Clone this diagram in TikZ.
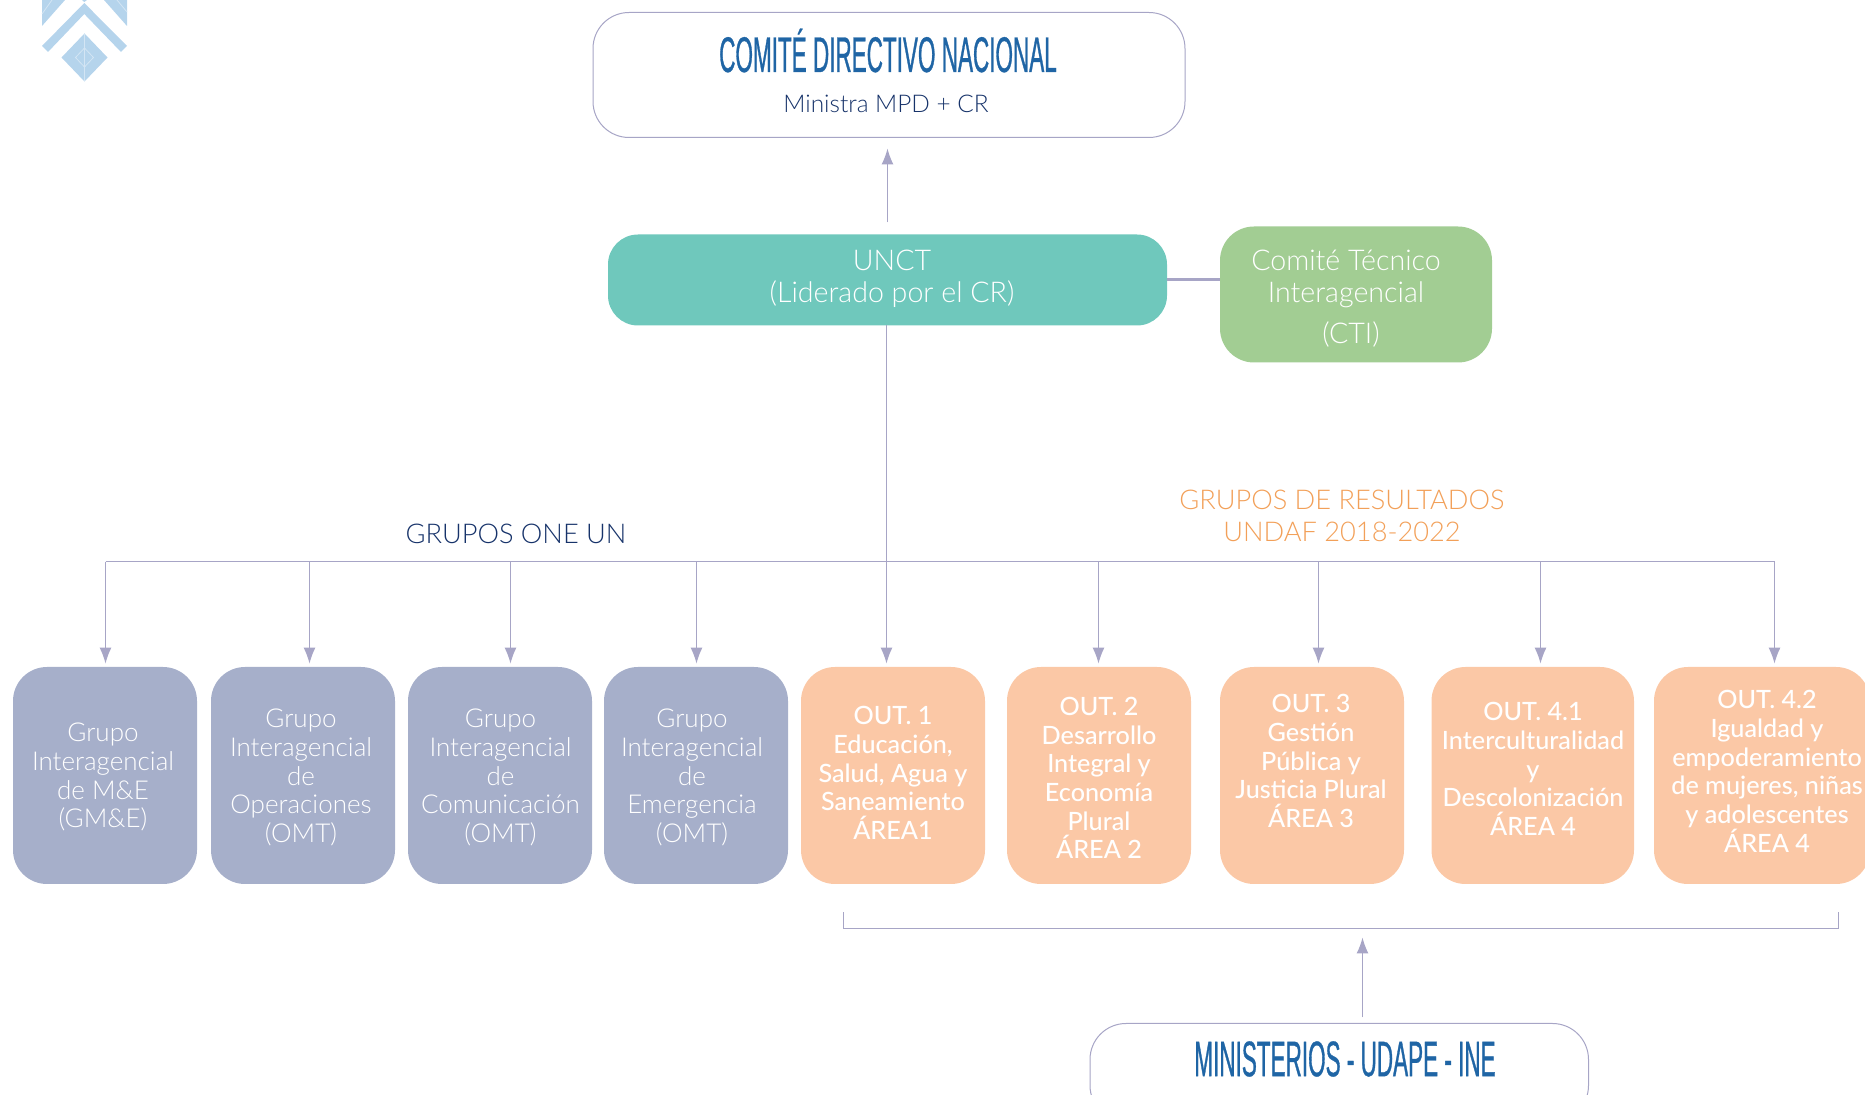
\documentclass[tikz,border=0pt]{standalone}
\usepackage{fontspec}
\setmainfont{Lato Light}
\newfontfamily\medf{Lato Medium}
\newfontfamily\titlef[FakeStretch=0.45,FakeBold=0.6]{Liberation Sans}
\usetikzlibrary{arrows.meta,calc}
\definecolor{linec}{HTML}{A7A5C6}
\definecolor{navyc}{HTML}{17336A}
\definecolor{titlec}{HTML}{1F65A5}
\definecolor{tealc}{HTML}{6FC8BC}
\definecolor{greenc}{HTML}{A2CD93}
\definecolor{greyb}{HTML}{A6AFCA}
\definecolor{orangeb}{HTML}{FBC8A6}
\definecolor{oranget}{HTML}{F2A059}
\definecolor{logoc}{HTML}{B5D4EC}
\definecolor{logol}{HTML}{D3E5F4}
\tikzset{
  x=0.5pt,y=-0.5pt,
  boxbase/.style={rounded corners=#1,inner sep=0pt,outer sep=0pt},
  outl/.style={draw=linec,line width=0.5pt,fill=white,rectangle,boxbase=18pt},
  tealbox/.style={fill=tealc,rectangle,boxbase=15pt},
  greenbox/.style={fill=greenc,rectangle,boxbase=17pt},
  greybox/.style={fill=greyb,rectangle,boxbase=17pt,minimum width=92pt,minimum height=108.5pt},
  orbox/.style={fill=orangeb,rectangle,boxbase=17pt,minimum height=108.5pt},
  wt/.style={text=white,align=center,font=\fontsize{13}{14.45}\selectfont,inner sep=0pt},
  wl/.style={text=white,align=center,font=\fontsize{14.3}{16.2}\selectfont,inner sep=0pt},
  wb/.style={text=white,align=center,font=\medf\fontsize{12.6}{14.35}\selectfont,inner sep=0pt},
  titlet/.style={text=titlec,font=\titlef\fontsize{25}{28}\selectfont,inner sep=0pt},
  line/.style={draw=linec,line width=0.6pt},
  arr/.style={line,-{Latex[length=8pt,width=6pt]}},
}
\begin{document}
\begin{tikzpicture}
\clip (0,0) rectangle (1865,1095);
\useasboundingbox (0,0) rectangle (1865,1095);
% logo
\fill[logoc] (84.3,3)--(127,46)--(121,52)--(84.3,14)--(48,52)--(42,46)--cycle;
\fill[logoc] (84.5,33.5)--(107.5,57.5)--(84.5,81.5)--(61.5,57.5)--cycle;
\draw[logol,line width=0.4pt] (84.5,33.5)--(84.5,81.5) (84.5,48)--(93.5,57.5)--(84.5,67)--(75.5,57.5)--cycle;
\fill[logoc] (42,0)--(65,0)--(42,26)--cycle;
\fill[logoc] (104,0)--(127,0)--(127,26)--cycle;
\fill[logoc] (84.3,0)--(87,0)--(84.3,2)--(82,0)--cycle;
\draw[logol,line width=0.4pt] (42,14)--(52,0) (127,12)--(117,0);
% boxes
\path (889,75) node[outl,minimum width=296pt,minimum height=62.5pt] (comite) {};
\path (887.5,280) node[tealbox,minimum width=279.5pt,minimum height=45.5pt] (unct) {};
\path (1356,294.5) node[greenbox,minimum width=136pt,minimum height=68pt] (cti) {};
\path (105,775.5) node[greybox] (g1) {};
\path (303,775.5) node[greybox] (g2) {};
\path (500,775.5) node[greybox] (g3) {};
\path (696,775.5) node[greybox] (g4) {};
\path (893,775.5) node[orbox,minimum width=92pt] (o1) {};
\path (1099,775.5) node[orbox,minimum width=92pt] (o2) {};
\path (1312,775.5) node[orbox,minimum width=92pt] (o3) {};
\path (1532.75,775.5) node[orbox,minimum width=101.25pt] (o4) {};
\path (1762,775.5) node[orbox,minimum width=108pt] (o5) {};
\path (1339.25,1072.5) node[outl,minimum width=249.25pt,minimum height=49pt] (mini) {};
% texts
\node[titlet] (tcomite) at (888,50.5) {COMITÉ DIRECTIVO NACIONAL};
\node[text=navyc,font=\fontsize{12.2}{14}\selectfont,inner sep=0pt] (tmin) at (886,104) {Ministra MPD + CR};
\node[wl] (tunct) at (892,278.5) {UNCT\\(Liderado por el CR)};
\node[wl] (tcti) at (1346,279) {Comité Técnico\\Interagencial};
\node[wl] (tcti2) at (1351,334) {(CTI)};
\node[text=navyc,font=\fontsize{13.6}{15}\selectfont,inner sep=0pt] (tone) at (516,533.5) {GRUPOS ONE UN};
\node[text=oranget,align=center,font=\fontsize{13.6}{16}\selectfont,inner sep=0pt] (tres) at (1342,515.5) {GRUPOS DE RESULTADOS\\UNDAF 2018-2022};
\node[wt] (tg1) at (103,777) {Grupo\\Interagencial\\de M\&E\\(GM\&E)};
\node[wt] (tg2) at (301,777.5) {Grupo\\Interagencial\\de\\Operaciones\\(OMT)};
\node[wt] (tg3) at (500.5,777.5) {Grupo\\Interagencial\\de\\Comunicación\\(OMT)};
\node[wt] (tg4) at (692,777.5) {Grupo\\Interagencial\\de\\Emergencia\\(OMT)};
\node[wb] (to1) at (893,773) {OUT. 1\\Educación,\\Salud, Agua y\\Saneamiento\\ÁREA1};
\node[wb] (to2) at (1099,778) {OUT. 2\\Desarrollo\\Integral y\\Economía\\Plural\\ÁREA 2};
\node[wb] (to3) at (1311,761) {OUT. 3\\Gestión\\Pública y\\Justicia Plural\\ÁREA 3};
\node[wb] (to4) at (1533,769) {OUT. 4.1\\Interculturalidad\\y\\Descolonización\\ÁREA 4};
\node[wb] (to5) at (1767,771.5) {OUT. 4.2\\Igualdad y\\empoderamiento\\de mujeres, niñas\\y adolescentes\\ÁREA 4};
\node[titlet] (tmini) at (1345,1059) {MINISTERIOS - UDAPE - INE};
% connectors
\coordinate (bL) at (105.5,561.7);
\coordinate (bR) at (1774.5,561.7);
\coordinate (b2) at (309.5,561.7);
\coordinate (b3) at (510.5,561.7);
\coordinate (b4) at (696.5,561.7);
\coordinate (b5) at (886.5,561.7);
\coordinate (b6) at (1098.5,561.7);
\coordinate (b7) at (1318.5,561.7);
\coordinate (b8) at (1540.5,561.7);
\coordinate (unctb) at (886.5,325);
\coordinate (brL) at (843.5,912.5);
\coordinate (brR) at (1838.5,912.5);
\coordinate (brM) at (1362.5,928.5);
\draw[arr,shorten <=6pt,shorten >=5.5pt] (unct.north) -- (unct.north |- comite.south);
\draw[line,line width=1.1pt] (unct.east |- 0,279.5) -- (cti.west |- 0,279.5);
\draw[line] (bL) -- (bR);
\draw[arr,shorten >=1.7pt] (unctb) -- (unctb |- o1.north);
\draw[arr,shorten >=1.7pt] (bL) -- (bL |- g1.north);
\draw[arr,shorten >=1.7pt] (b2) -- (b2 |- g2.north);
\draw[arr,shorten >=1.7pt] (b3) -- (b3 |- g3.north);
\draw[arr,shorten >=1.7pt] (b4) -- (b4 |- g4.north);
\draw[arr,shorten >=1.7pt] (b6) -- (b6 |- o2.north);
\draw[arr,shorten >=1.7pt] (b7) -- (b7 |- o3.north);
\draw[arr,shorten >=1.7pt] (b8) -- (b8 |- o4.north);
\draw[arr,shorten >=1.7pt] (bR) -- (bR |- o5.north);
\draw[line] (brL) -- (brL |- brM) -- (brR |- brM) -- (brR);
\draw[arr,shorten <=3pt,shorten >=4.5pt] (brM |- mini.north) -- (brM);
\end{tikzpicture}
\end{document}
